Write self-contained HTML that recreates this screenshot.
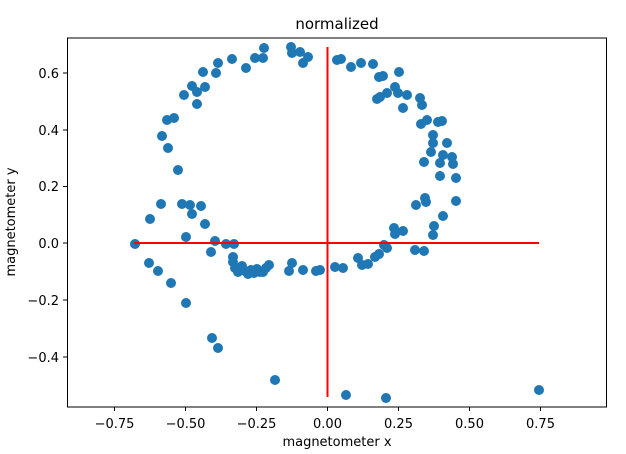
<!DOCTYPE html>
<html><head><meta charset="utf-8"><style>body{margin:0;background:#fff}svg{display:block}text{font-family:"DejaVu Sans","Liberation Sans",sans-serif;fill:#000}</style></head><body>
<svg width="626" height="454" viewBox="0 0 626 454" xmlns="http://www.w3.org/2000/svg">
<rect width="626" height="454" fill="#fff"/>
<g fill="#1f77b4" id="pts"></g>
<line x1="134" y1="243" x2="539" y2="243" stroke="#f00" stroke-width="2"/>
<line x1="327.5" y1="47" x2="327.5" y2="397" stroke="#f00" stroke-width="2"/>
<rect x="67.5" y="38" width="539" height="369" fill="none" stroke="#000" stroke-width="1"/>
<g stroke="#000" stroke-width="1">
<line x1="114.5" y1="407" x2="114.5" y2="411"/><line x1="185.5" y1="407" x2="185.5" y2="411"/><line x1="256.5" y1="407" x2="256.5" y2="411"/><line x1="327.5" y1="407" x2="327.5" y2="411"/><line x1="398.5" y1="407" x2="398.5" y2="411"/><line x1="469.5" y1="407" x2="469.5" y2="411"/><line x1="540.5" y1="407" x2="540.5" y2="411"/>
<line x1="63" y1="357" x2="67.5" y2="357"/><line x1="63" y1="300" x2="67.5" y2="300"/><line x1="63" y1="243" x2="67.5" y2="243"/><line x1="63" y1="186.5" x2="67.5" y2="186.5"/><line x1="63" y1="130" x2="67.5" y2="130"/><line x1="63" y1="73" x2="67.5" y2="73"/>
</g>
<g font-size="13" text-anchor="middle">
<text x="114.5" y="428">−0.75</text><text x="185.5" y="428">−0.50</text><text x="256.5" y="428">−0.25</text><text x="327.5" y="428">0.00</text><text x="398.5" y="428">0.25</text><text x="469.5" y="428">0.50</text><text x="540.5" y="428">0.75</text>
</g>
<g font-size="13" text-anchor="end">
<text x="59" y="362">−0.4</text><text x="59" y="305">−0.2</text><text x="59" y="248">0.0</text><text x="59" y="191">0.2</text><text x="59" y="135">0.4</text><text x="59" y="78">0.6</text>
</g>
<text x="337" y="446" font-size="13" text-anchor="middle">magnetometer x</text>
<text x="0" y="0" font-size="13" text-anchor="middle" transform="translate(15,222) rotate(-90)">magnetometer y</text>
<text x="337" y="29" font-size="15" text-anchor="middle">normalized</text>
</svg>
<script>
var p=[264,48,291,47,292,53,300,52,308,57,303,63,232,59,218,63,255,58,263,58,246,68,216,73,203,72,192,86,205,87,197,92,184,95,197,104,167,120,174,118,162,136,168,148,178,170,161,204,182,204,190,205,201,206,192,214,150,219,205,224,186,237,135,244,215,241,226,244,234,244,211,252,233,257,149,263,158,271,337,60,341,59,351,67,358,258,335,267,343,268,292,263,289,271,303,270,316,271,320,270,
233,262,235,268,238,272,242,266,245,271,248,274,251,270,254,273,257,269,260,272,263,272,266,268,269,265,
361,63,373,64,379,77,383,76,399,72,395,87,387,93,377,99,380,97,398,93,407,95,403,108,420,98,422,105,421,124,427,120,438,122,442,121,433,135,433,143,447,143,431,152,443,155,452,157,440,163,453,164,424,162,440,176,456,178,425,198,426,202,416,205,456,201,443,216,434,226,433,235,394,228,403,231,395,234,384,245,387,248,375,257,415,250,424,251,368,264,362,265,379,254,
212,338,218,348,186,303,171,283,275,380,346,395,386,398,539,390];
var g=document.getElementById('pts'),s='';
for(var i=0;i<p.length;i+=2)s+='<circle cx="'+p[i]+'" cy="'+p[i+1]+'" r="5"/>';
g.innerHTML=s;
</script>
</body></html>
